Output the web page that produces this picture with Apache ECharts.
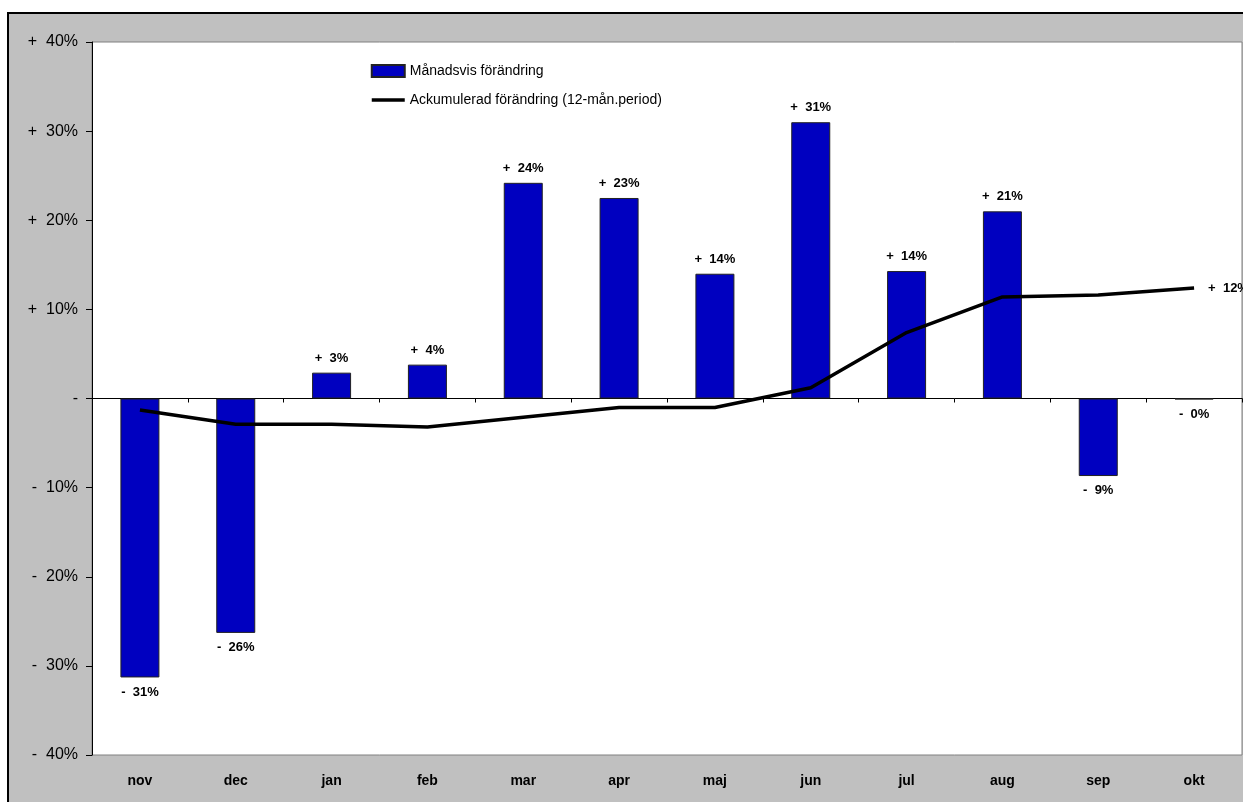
<!DOCTYPE html>
<html>
<head>
<meta charset="utf-8">
<script src="https://cdn.jsdelivr.net/npm/echarts@6/dist/echarts.min.js"></script>
<style>
  html, body { margin: 0; padding: 0; background: #fff; }
  #chart { width: 1243px; height: 802px; }
</style>
</head>
<body>
<div id="chart"></div>
<script>
// månader
const months = ['nov', 'dec', 'jan', 'feb', 'mar', 'apr', 'maj', 'jun', 'jul', 'aug', 'sep', 'okt'];
// månadsvis förändring (%)
const monthlyChange = [-31.3, -26.3, 2.9, 3.8, 24.2, 22.5, 14.0, 31.0, 14.3, 21.0, -8.7, -0.1];
// ackumulerad förändring, 12-mån.period (%)
const accumulated = [-1.3, -2.9, -2.9, -3.2, -2.1, -1.0, -1.0, 1.2, 7.4, 11.4, 11.6, 12.4];

const fmtPct = v => (v < 0 ? '-  ' : '+  ') + Math.round(Math.abs(v)) + '%';

const chart = echarts.init(document.getElementById('chart'));

const option = {
  backgroundColor: '#c0c0c0',
  animation: false,
  textStyle: { fontFamily: 'Liberation Sans, Arial, sans-serif' },
  graphic: [
    // vit marginal utanför ramen
    { type: 'rect', shape: { x: 0, y: 0, width: 1243, height: 12 }, style: { fill: '#fff' } },
    { type: 'rect', shape: { x: 0, y: 0, width: 7, height: 802 }, style: { fill: '#fff' } },
    { type: 'line', shape: { x1: 7, y1: 13, x2: 1243, y2: 13 }, style: { stroke: '#000', lineWidth: 2 } },
    { type: 'line', shape: { x1: 8, y1: 12, x2: 8, y2: 802 }, style: { stroke: '#000', lineWidth: 2 } }
  ],
  legend: {
    orient: 'vertical',
    left: 370,
    top: 64,
    padding: 0,
    itemGap: 15,
    itemWidth: 33,
    itemHeight: 12,
    textStyle: { fontSize: 14, color: '#000', fontFamily: 'Liberation Sans, Arial, sans-serif' },
    data: [
      { name: 'Månadsvis förändring', icon: 'rect' },
      { name: 'Ackumulerad förändring (12-mån.period)', itemStyle: { opacity: 0 }, lineStyle: { width: 3.5, color: '#000' } }
    ]
  },
  grid: {
    left: 92,
    right: 1,
    top: 42,
    bottom: 47,
    show: true,
    backgroundColor: '#fff',
    borderColor: '#808080',
    borderWidth: 1
  },
  xAxis: [
    {
      type: 'category',
      data: months,
      axisLine: { onZero: true, lineStyle: { color: '#000', width: 1 } },
      axisTick: { show: true, inside: false, length: 4, lineStyle: { color: '#000' } },
      axisLabel: { show: false }
    },
    {
      type: 'category',
      data: months,
      position: 'bottom',
      axisLine: { show: false, onZero: false },
      axisTick: { show: false },
      axisLabel: { fontSize: 14, fontWeight: 'bold', color: '#000', margin: 19 }
    }
  ],
  yAxis: {
    type: 'value',
    min: -40,
    max: 40,
    interval: 10,
    splitLine: { show: false },
    axisLine: { show: true, lineStyle: { color: '#000', width: 1 } },
    axisTick: { show: true, inside: false, length: 6, lineStyle: { color: '#000' } },
    axisLabel: {
      fontSize: 16,
      color: '#000',
      margin: 14,
      formatter: v => (v === 0 ? '-' : (v < 0 ? '-  ' : '+  ') + Math.abs(v) + '%')
    }
  },
  series: [
    {
      name: 'Månadsvis förändring',
      type: 'bar',
      xAxisIndex: 0,
      data: monthlyChange,
      barWidth: 39,
      itemStyle: { color: '#0000c0', borderColor: '#222', borderWidth: 1 },
      label: {
        show: true,
        position: 'outside',
        distance: 8,
        fontSize: 13,
        fontWeight: 'bold',
        color: '#000',
        formatter: p => fmtPct(p.value)
      },
      z: 2
    },
    {
      name: 'Ackumulerad förändring (12-mån.period)',
      type: 'line',
      xAxisIndex: 0,
      data: accumulated,
      symbol: 'none',
      lineStyle: { color: '#000', width: 3.5 },
      itemStyle: { color: '#000' },
      z: 3
    },
    {
      // etikett vid sista punkten
      name: 'slutvärde',
      type: 'scatter',
      xAxisIndex: 0,
      data: accumulated.map((v, i) => (i === accumulated.length - 1 ? v : null)),
      symbolSize: 0,
      silent: true,
      itemStyle: { opacity: 1, color: '#000' },
      label: {
        show: true,
        position: 'right',
        distance: 14,
        fontSize: 13,
        fontWeight: 'bold',
        color: '#000',
        opacity: 1,
        formatter: p => fmtPct(p.value)
      },
      z: 4
    }
  ]
};

chart.setOption(option);
</script>
</body>
</html>
